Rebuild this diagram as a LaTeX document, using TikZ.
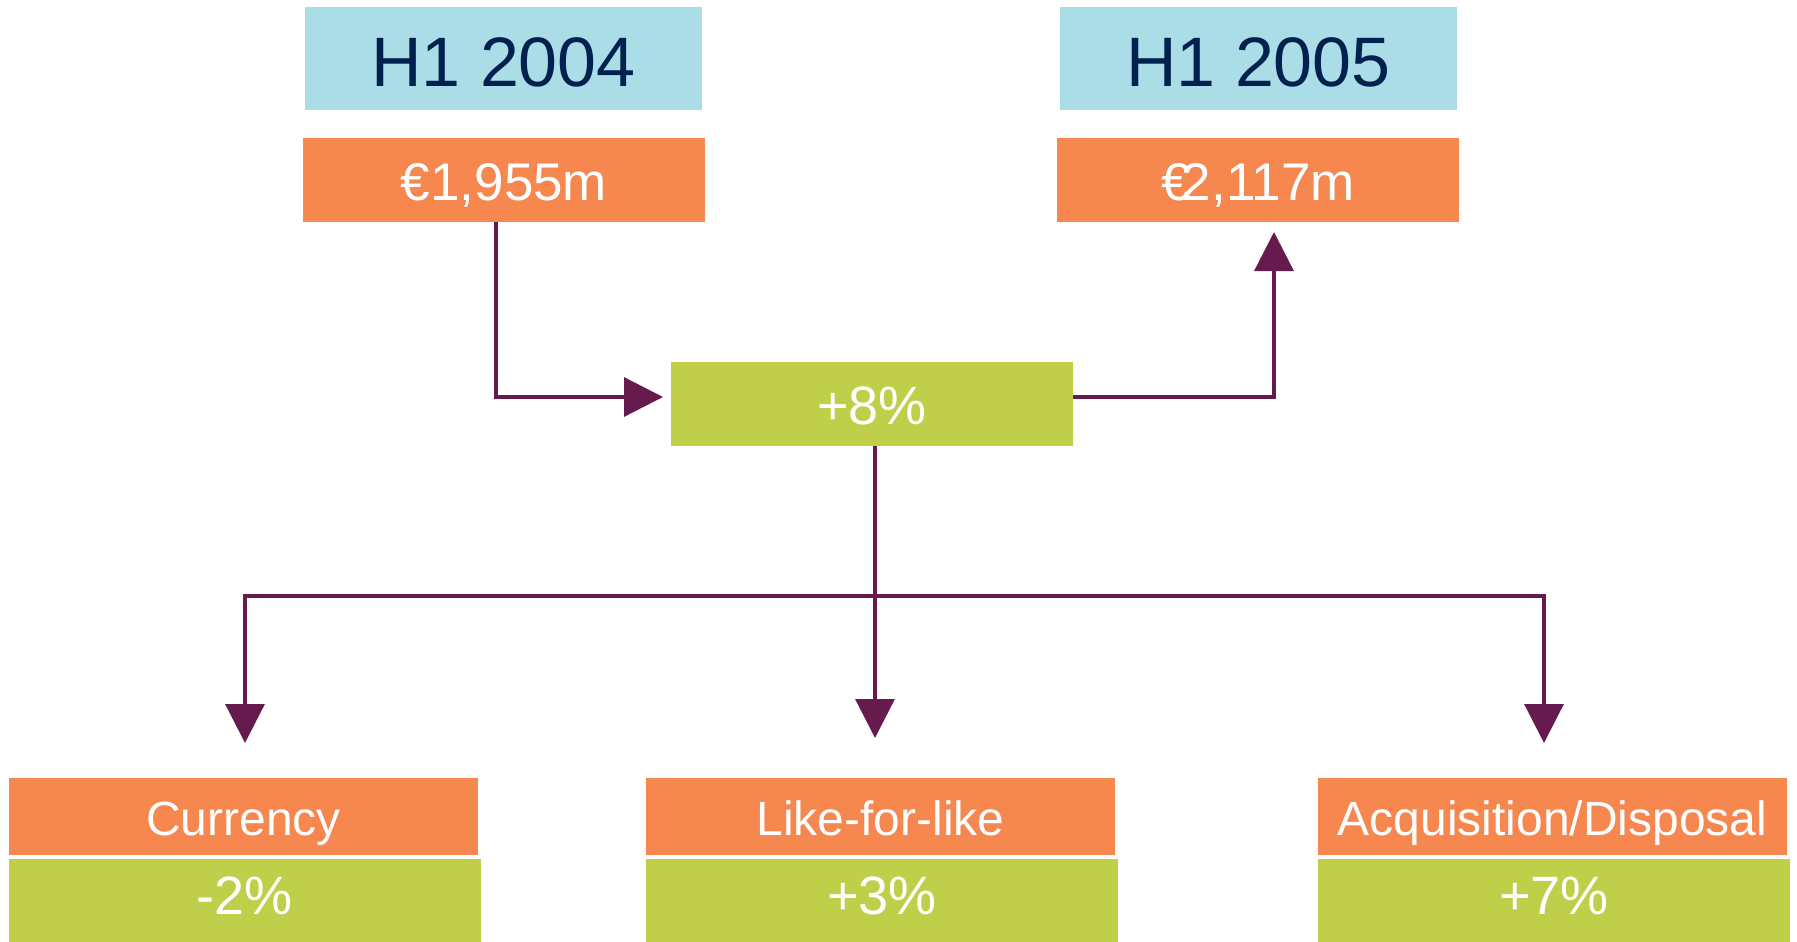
\documentclass[tikz,border=0pt]{standalone}
\usepackage{fontspec}
\setmainfont{Liberation Sans}
\usetikzlibrary{arrows.meta}
\definecolor{hdrblue}{HTML}{ABDDE7}
\definecolor{navy}{HTML}{00214F}
\definecolor{orng}{HTML}{F5874F}
\definecolor{lime}{HTML}{BFCF4A}
\definecolor{plum}{HTML}{661A4E}
\tikzset{
  box/.style={rectangle, inner sep=0pt, outer sep=0pt, draw=none},
  headbox/.style={box, fill=hdrblue, text=navy, minimum width=397pt, minimum height=103pt,
    text height=55pt, text depth=0pt, font=\fontsize{70}{70}\selectfont},
  topval/.style={box, fill=orng, text=white, minimum width=402pt, minimum height=84pt,
    text height=40pt, text depth=0pt, font=\fontsize{53}{53}\selectfont},
  totbox/.style={box, fill=lime, text=white, minimum width=402pt, minimum height=84pt,
    text height=40pt, text depth=0pt, font=\fontsize{54}{54}\selectfont},
  lblbox/.style={box, fill=orng, text=white, minimum width=469pt, minimum height=77pt,
    text height=37pt, text depth=0pt, font=\fontsize{48}{48}\selectfont},
  valbox/.style={box, fill=lime, text=white, minimum width=472pt, minimum height=84pt,
    text height=27pt, text depth=0pt, font=\fontsize{54}{54}\selectfont},
  wire/.style={draw=plum, line width=3.3pt, line join=miter},
  conn/.style={wire, -{Triangle[length=39pt, width=39pt]}},
}
\begin{document}
\begin{tikzpicture}[x=1pt, y=-1pt]
\useasboundingbox (0,0) rectangle (1797,942);

\node[headbox] (h04) at (503.5,58.5) {H1 2004};
\node[headbox] (h05) at (1258.5,58.5) {H1 2005};
\node[topval] (v04) at (504,180) {€1,955m};
\node[topval] (v05) at (1258,180) {€\kern-0.17em2,117m};
\node[totbox] (tot) at (872,404) {+8\%};

\node[lblbox] (cur) at (243.5,816.5) {Currency};
\node[valbox] (curv) at (244.5,901) {-2\%};
\node[lblbox] (lfl) at (880.5,816.5) {Like-for-like};
\node[valbox] (lflv) at (882,901) {+3\%};
\node[lblbox] (acq) at (1552.5,816.5) {Acquisition/Disposal};
\node[valbox] (acqv) at (1554,901) {+7\%};

\coordinate (c1) at (496,397);
\coordinate (c2) at (1274,397);
\coordinate (bus) at (875,596);
\coordinate (bl) at (245,596);
\coordinate (br) at (1544,596);

\draw[conn, shorten >=8pt] (v04.south -| c1) -- (c1) -- (tot.west |- c1);
\draw[conn, shorten >=10pt] (tot.east |- c2) -- (c2) -- (v05.south -| c2);
\draw[conn, shorten >=40pt] (tot.south -| bus) -- (lfl.north -| bus);
\draw[conn, shorten >=35pt] (bus) -- (bl) -- (cur.north -| bl);
\draw[conn, shorten >=35pt] (bus) -- (br) -- (acq.north -| br);
\end{tikzpicture}
\end{document}
